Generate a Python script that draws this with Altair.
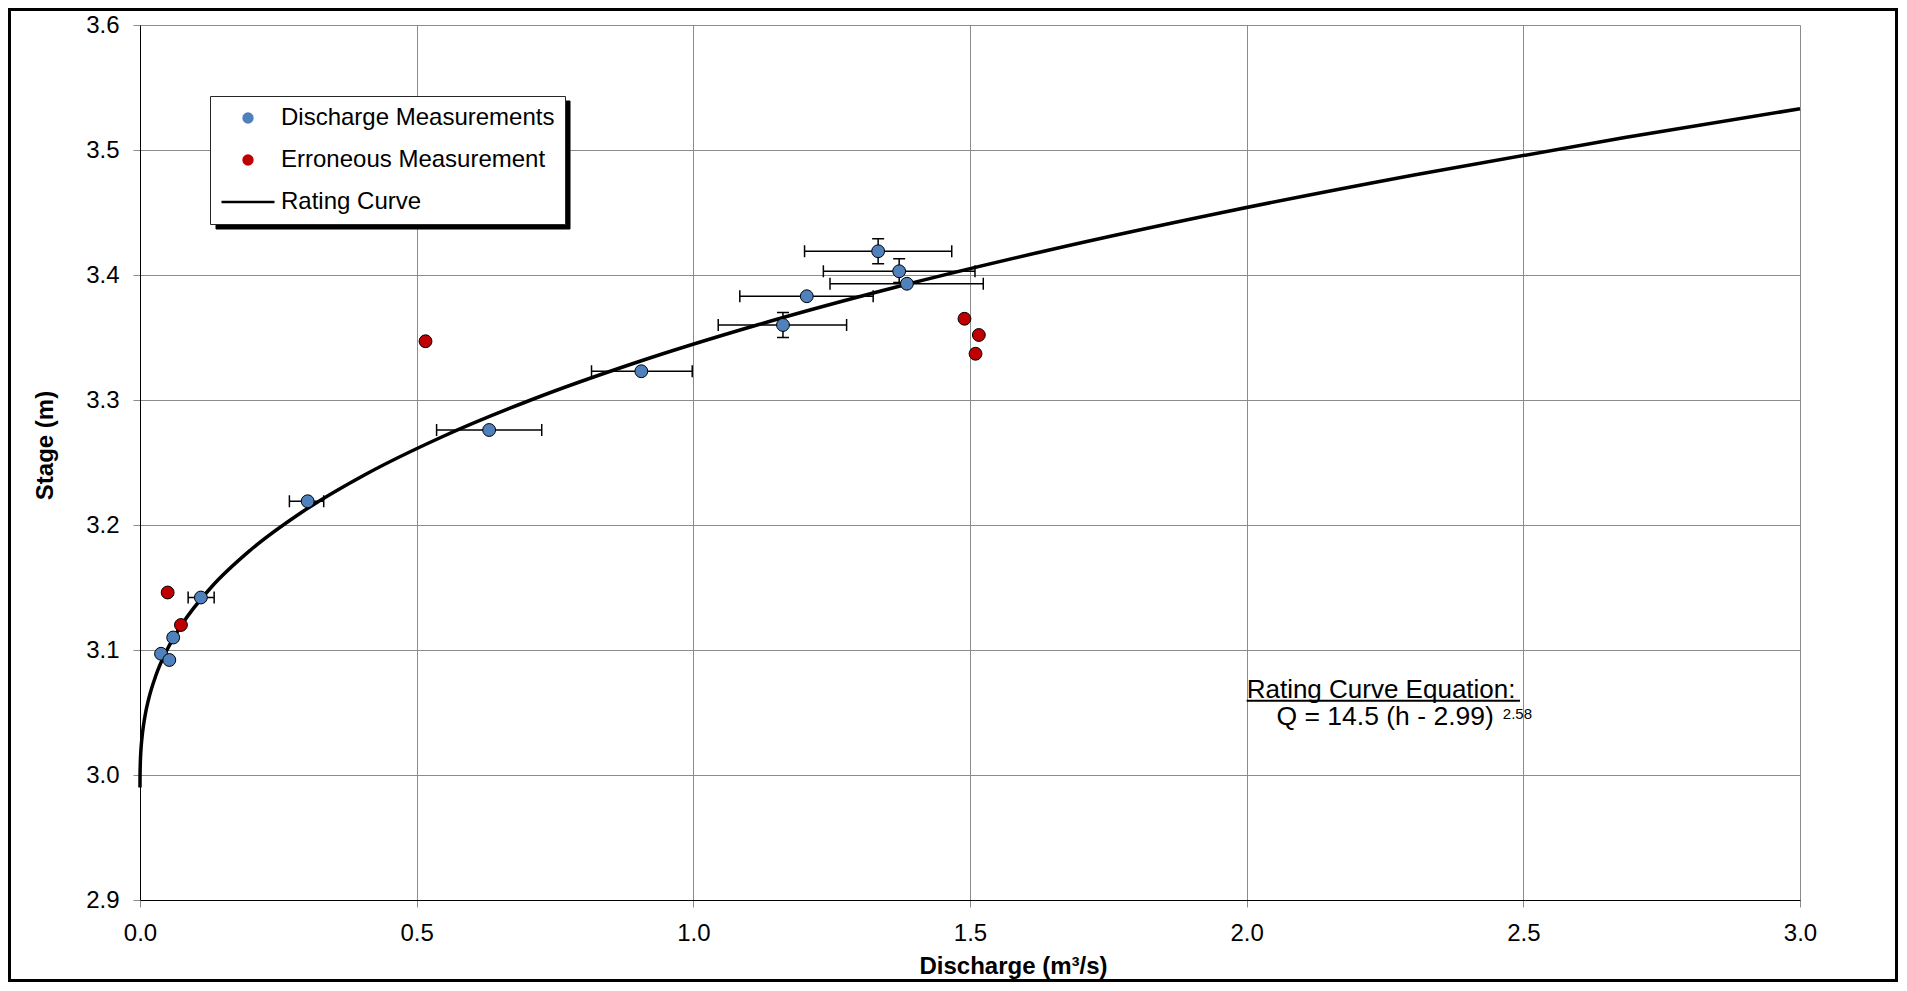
import altair as alt
import pandas as pd

FONT = "Liberation Sans"

# ---------------- data ----------------
series_names = ["Discharge Measurements", "Erroneous Measurement", "Rating Curve"]
series_colors = ["#4f81bd", "#c00000", "#000000"]
series_shapes = ["circle", "circle", "M-4.65,-0.22H4.65V0.22H-4.65Z"]

# discharge measurements (Q in m3/s, h in m) with their uncertainty ranges
meas_q = [0.038, 0.053, 0.060, 0.110, 0.303, 0.631, 0.906, 1.162, 1.205, 1.334, 1.372, 1.386]
meas_h = [3.097, 3.092, 3.110, 3.142, 3.219, 3.276, 3.323, 3.360, 3.383, 3.419, 3.403, 3.393]
q_lo = [None, None, None, 0.087, 0.270, 0.536, 0.816, 1.045, 1.084, 1.201, 1.235, 1.247]
q_hi = [None, None, None, 0.134, 0.332, 0.726, 0.998, 1.277, 1.325, 1.467, 1.509, 1.524]
h_lo = [None, None, None, None, None, None, None, 3.350, None, 3.409, 3.394, None]
h_hi = [None, None, None, None, None, None, None, 3.370, None, 3.429, 3.413, None]

# erroneous measurements
err_q = [0.050, 0.074, 0.516, 1.490, 1.516, 1.510]
err_h = [3.146, 3.120, 3.347, 3.365, 3.352, 3.337]

# rating curve points
curve_h = [2.990, 2.995, 3.000, 3.010, 3.020, 3.030, 3.040, 3.050, 3.060, 3.080,
           3.100, 3.120, 3.150, 3.180, 3.210, 3.240, 3.270, 3.300, 3.330, 3.360,
           3.390, 3.420, 3.450, 3.480, 3.510, 3.533]
curve_q = [0.0000, 0.00002, 0.0001, 0.0006, 0.0017, 0.0036, 0.0064, 0.0102, 0.0152, 0.0290,
           0.0487, 0.0751, 0.1283, 0.1998, 0.2916, 0.4056, 0.5433, 0.7063, 0.8967, 1.1152,
           1.3634, 1.6433, 1.9560, 2.3025, 2.6834, 3.0000]

x_ticks = [0.0, 0.5, 1.0, 1.5, 2.0, 2.5, 3.0]
y_ticks = [2.9, 3.0, 3.1, 3.2, 3.3, 3.4, 3.5, 3.6]

x_title = "Discharge (m³/s)"
y_title = "Stage (m)"
eq_title = "Rating Curve Equation:"
eq_body = "Q = 14.5 (h - 2.99)"
eq_exp = "2.58"

# ---------------- tables ----------------
meas = pd.DataFrame({"q": meas_q, "h": meas_h, "q_lo": q_lo, "q_hi": q_hi,
                     "h_lo": h_lo, "h_hi": h_hi})
meas["series"] = series_names[0]
err = pd.DataFrame({"q": err_q, "h": err_h})
err["series"] = series_names[1]
points = pd.concat([meas[["q", "h", "series"]], err], ignore_index=True)
curve = pd.DataFrame({"q": curve_q, "h": curve_h})
curve["series"] = series_names[2]
one = alt.Data(values=[{}])

# ---------------- scales / axes ----------------
xscale = alt.Scale(domain=[0, 3], nice=False, zero=False)
yscale = alt.Scale(domain=[2.9, 3.6], nice=False, zero=False)
xaxis = alt.Axis(values=x_ticks, format=".1f", title=x_title, labelFlush=False,
                 titleX=873, titleY=73, titleAlign="center", titleBaseline="alphabetic")
yaxis = alt.Axis(values=y_ticks, format=".1f", title=y_title, titleX=-95, titleY=420,
                 titleAngle=270, titleAlign="center", titleBaseline="middle")


def X(field):
    return alt.X(field, type="quantitative", scale=xscale, axis=xaxis)


def Y(field):
    return alt.Y(field, type="quantitative", scale=yscale, axis=yaxis)


main_legend = alt.Legend(orient="none", direction="vertical", title=None, padding=10,
                         rowPadding=18, symbolOffset=16, labelOffset=21, labelFont=FONT,
                         labelFontSize=24, labelColor="black", labelLimit=500,
                         symbolSize=130, legendX=70, legendY=71, fillColor="white",
                         strokeColor="#262626", symbolStrokeColor="black",
                         symbolStrokeWidth=1, symbolOpacity=1, zindex=2)

# ---------------- layers ----------------
# legend drop shadow (decoration behind the legend box)
shadow = alt.Chart(one).mark_rect(fill="black", stroke="black", strokeWidth=1).encode(
    x=alt.value(76), x2=alt.value(430), y=alt.value(76), y2=alt.value(204))

base_m = alt.Chart(meas)
hbars = base_m.transform_filter("isValid(datum.q_lo)").mark_rule(
    color="black", strokeWidth=1.5).encode(x=X("q_lo"), x2="q_hi", y=Y("h"))
hcaps = base_m.transform_filter("isValid(datum.q_lo)").transform_fold(
    ["q_lo", "q_hi"], as_=["end", "qv"]).mark_tick(
    orient="vertical", size=12, thickness=1.5, color="black", opacity=1).encode(
    x=X("qv"), y=Y("h"))
vbars = base_m.transform_filter("isValid(datum.h_lo)").mark_rule(
    color="black", strokeWidth=1.5).encode(x=X("q"), y=Y("h_lo"), y2="h_hi")
vcaps = base_m.transform_filter("isValid(datum.h_lo)").transform_fold(
    ["h_lo", "h_hi"], as_=["end", "hv"]).mark_tick(
    orient="horizontal", size=12, thickness=1.5, color="black", opacity=1).encode(
    x=X("q"), y=Y("hv"))

line = alt.Chart(curve).mark_line(color="black", strokeWidth=3.5,
                                  interpolate="monotone").encode(x=X("q"), y=Y("h"))

pts = alt.Chart(points).mark_point(filled=True, size=165, stroke="black",
                                   strokeWidth=1, opacity=1).encode(
    x=X("q"), y=Y("h"),
    fill=alt.Fill("series:N", scale=alt.Scale(domain=series_names, range=series_colors),
                  legend=main_legend),
    shape=alt.Shape("series:N", scale=alt.Scale(domain=series_names, range=series_shapes),
                    legend=main_legend))

eq1 = alt.Chart(one).mark_text(align="left", baseline="alphabetic", fontSize=26, font=FONT,
                               color="black", text=eq_title).encode(
    x=alt.datum(2.0), y=alt.datum(3.0618))
underline = alt.Chart(one).mark_rule(color="black", strokeWidth=2).encode(
    x=alt.datum(2.0), x2=alt.datum(2.494), y=alt.datum(3.0594))
eq2 = alt.Chart(one).mark_text(align="left", baseline="alphabetic", fontSize=26.5, font=FONT,
                               color="black", text=eq_body).encode(
    x=alt.datum(2.054), y=alt.datum(3.040))
eq3 = alt.Chart(one).mark_text(align="left", baseline="alphabetic", fontSize=15, font=FONT,
                               color="black", text=eq_exp).encode(
    x=alt.datum(2.463), y=alt.datum(3.0446))

frame = alt.Chart(one).mark_rect(fillOpacity=0, stroke="black", strokeWidth=3).encode(
    x=alt.value(-130.5), x2=alt.value(1756.5), y=alt.value(-15.5), y2=alt.value(955.5))

chart = alt.layer(shadow, hbars, hcaps, vbars, vcaps, line, pts, eq1, underline, eq2, eq3,
                  frame).properties(
    width=1660, height=875,
    autosize=alt.AutoSizeParams(type="none"),
    padding={"left": 132, "top": 17, "right": 98, "bottom": 82},
).configure(font=FONT, background="white").configure_view(
    stroke="transparent"
).configure_axis(
    grid=True, gridColor="#8c8c8c", gridWidth=1,
    domainColor="black", domainWidth=1,
    tickColor="#8c8c8c", tickSize=7, tickWidth=1,
    labelFont=FONT, labelFontSize=24, labelColor="black", labelPadding=14,
    titleFont=FONT, titleFontSize=24, titleFontWeight="bold", titleColor="black",
)

chart.save("out.html", embed_options={"renderer": "svg", "actions": False})
